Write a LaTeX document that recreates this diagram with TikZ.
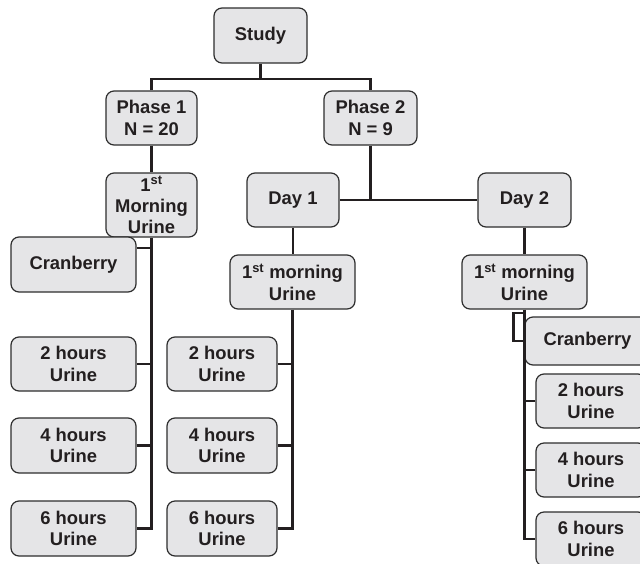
\documentclass[tikz,border=0pt]{standalone}
\usepackage{fontspec}
\setmainfont{Liberation Sans}
\definecolor{boxfill}{HTML}{E5E5E7}
\definecolor{boxline}{HTML}{2E2E2E}
\definecolor{ink}{HTML}{231F20}
\tikzset{
  box/.style={draw=boxline, fill=boxfill, line width=1.2pt, rounded corners=8pt,
    align=center, inner sep=0pt, text=ink,
    font=\bfseries\fontsize{18.4}{21.8}\selectfont},
  conn/.style={draw=ink, line width=2.6pt, line cap=butt}
}
\begin{document}
\begin{tikzpicture}[x=1pt,y=-1pt]
\useasboundingbox (0,0) rectangle (640,563);
\clip (0,0) rectangle (640,563);
\fill[white] (0,0) rectangle (640,563);
% connectors first
\coordinate (J0) at (260.5,79);
\coordinate (B0) at (524.5,313);
% nodes
\node[box, minimum width=93pt, minimum height=55pt] (S) at (260.5,35.5) {Study};
\node[box, minimum width=91pt, minimum height=54pt] (P1) at (151.5,118) {Phase 1\\N = 20};
\node[box, minimum width=93pt, minimum height=54pt] (P2) at (370.5,118) {Phase 2\\N = 9};
\node[box, minimum width=91pt, minimum height=64pt, font=\bfseries\fontsize{18.4}{21}\selectfont] (M1) at (151.5,205) {1\textsuperscript{st}\\Morning\\Urine};
\node[box, minimum width=92pt, minimum height=54pt] (D1) at (293,200) {Day 1};
\node[box, minimum width=93pt, minimum height=54pt] (D2) at (524.5,200) {Day 2};
\node[box, minimum width=125pt, minimum height=54pt] (D1M) at (292.5,282) {1\textsuperscript{st} morning\\Urine};
\node[box, minimum width=125pt, minimum height=54pt] (D2M) at (524.5,282) {1\textsuperscript{st} morning\\Urine};
% left column
\node[box, minimum width=125pt, minimum height=55pt] (C1) at (73.5,264.5) {Cranberry};
\node[box, minimum width=125pt, minimum height=54pt] (H2L) at (73.5,364) {2 hours\\Urine};
\node[box, minimum width=125pt, minimum height=55pt] (H4L) at (73.5,445.5) {4 hours\\Urine};
\node[box, minimum width=125pt, minimum height=55pt] (H6L) at (73.5,528.5) {6 hours\\Urine};
% middle column
\node[box, minimum width=110pt, minimum height=54pt] (H2M) at (222,364) {2 hours\\Urine};
\node[box, minimum width=110pt, minimum height=55pt] (H4M) at (222,445.5) {4 hours\\Urine};
\node[box, minimum width=110pt, minimum height=55pt] (H6M) at (222,528.5) {6 hours\\Urine};
% right column
\node[box, minimum width=125pt, minimum height=48pt] (CR) at (587.5,341) {Cranberry};
\node[box, minimum width=110pt, minimum height=54pt] (H2R) at (591,401) {2 hours\\Urine};
\node[box, minimum width=110pt, minimum height=54pt] (H4R) at (591,470) {4 hours\\Urine};
\node[box, minimum width=110pt, minimum height=54pt] (H6R) at (591,539) {6 hours\\Urine};
% connectors
\draw[conn] (S.south) -- (J0);
\draw[conn] (P1.north) |- (J0) -| (P2.north);
\draw[conn] (P1.south) -- (M1.north);
\draw[conn] (P2.south) -- (P2.south |- D1.east);
\draw[conn] (D1.east) -- (D2.west);
\draw[conn] (D1.south) -- (D1.south |- D1M.north);
\draw[conn] (D2.south) -- (D2.south |- D2M.north);
% left trunk
\draw[conn] (M1.south) |- (H6L.east);
\draw[conn] ([yshift=16.5pt]C1.east) -- ([yshift=16.5pt]C1.east -| M1.south);
\draw[conn] (H2L.east) -- (H2L.east -| M1.south);
\draw[conn] (H4L.east) -- (H4L.east -| M1.south);
% middle trunk
\draw[conn] (D1M.south) |- (H6M.east);
\draw[conn] (H4M.east) -- (H4M.east -| D1M.south);
\draw[conn] (H2M.east) -- (H2M.east -| D1M.south);
% right trunk
\draw[conn] (D2M.south) |- (H6R.west);
\draw[conn] (H2R.west) -- (H2R.west -| D2M.south);
\draw[conn] (H4R.west) -- (H4R.west -| D2M.south);
\draw[conn] (B0) -- ++(-11,0) |- (CR.west);
\end{tikzpicture}
\end{document}
